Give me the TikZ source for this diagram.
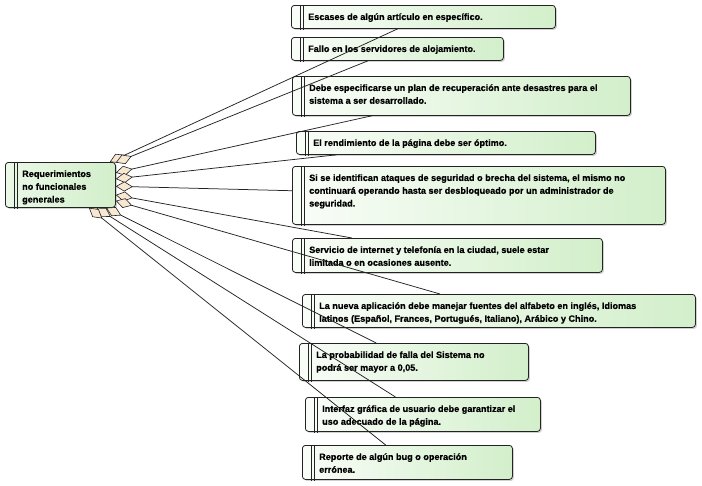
\documentclass[tikz,border=0pt]{standalone}
\usepackage{fontspec}
\setmainfont{Liberation Sans}
\newfontfamily\reqfont{Liberation Sans}[BoldFeatures={FakeBold=0.6}]
\usetikzlibrary{arrows.meta,shadows}
\definecolor{reqgreen}{RGB}{210,239,202}
\definecolor{diamfill}{RGB}{248,232,210}
\definecolor{edgecol}{RGB}{35,35,35}
\begin{document}
\begin{tikzpicture}[x=1pt,y=-1pt,
  reqbox/.style={draw=edgecol, line width=0.8pt, rounded corners=3pt,
    left color=white!88!reqgreen, right color=reqgreen, inner sep=0pt, anchor=north west,
    drop shadow={shadow xshift=1.5pt, shadow yshift=-1.5pt, fill=black, opacity=0.18}},
  reqtext/.style={font=\reqfont\bfseries\fontsize{9.1}{12.8}\selectfont, align=left,
    inner sep=0pt, anchor=north west, text=black},
  barline/.style={draw=edgecol, line width=0.7pt},
  agg/.style={draw=edgecol, line width=0.75pt,
    {Diamond[fill=diamfill, length=17pt, width=10pt, line width=0.6pt]}-}
]
\useasboundingbox (0,0) rectangle (702,485);
% boxes
\node[reqbox, minimum width=110pt, minimum height=45pt, left color=white!55!reqgreen] (req) at (5,162) {};
\node[reqbox, minimum width=264pt, minimum height=23pt] (b1) at (291,5) {};
\node[reqbox, minimum width=212pt, minimum height=23pt] (b2) at (291,37) {};
\node[reqbox, minimum width=338pt, minimum height=39pt] (b3) at (292,76) {};
\node[reqbox, minimum width=299pt, minimum height=23pt] (b4) at (296,131) {};
\node[reqbox, minimum width=373pt, minimum height=58pt] (b5) at (292,166) {};
\node[reqbox, minimum width=310pt, minimum height=34pt] (b6) at (292,238) {};
\node[reqbox, minimum width=393pt, minimum height=33pt] (b7) at (302,294) {};
\node[reqbox, minimum width=229pt, minimum height=37pt] (b8) at (299,343) {};
\node[reqbox, minimum width=235pt, minimum height=34pt] (b9) at (305,397) {};
\node[reqbox, minimum width=210pt, minimum height=34pt] (b10) at (302,445) {};
% double bars
\foreach \n in {req,b1,b2,b3,b4,b5,b6,b7,b8,b9,b10}{
  \draw[barline] ([xshift=9pt]\n.north west) -- ([xshift=9pt,yshift=-1.5pt]\n.south west);
  \draw[barline] ([xshift=12pt]\n.north west) -- ([xshift=12pt,yshift=-1.5pt]\n.south west);
}
% texts
\node[reqtext] (t0) at ([xshift=17pt,yshift=-5.8pt]req.north west) {\strut Requerimientos\\no funcionales\\generales};
\node[reqtext] (t1) at ([xshift=17pt,yshift=-5.8pt]b1.north west) {\strut Escases de algún artículo en específico.};
\node[reqtext] (t2) at ([xshift=17pt,yshift=-5.8pt]b2.north west) {\strut Fallo en los servidores de alojamiento.};
\node[reqtext] (t3) at ([xshift=17pt,yshift=-5.8pt]b3.north west) {\strut Debe especificarse un plan de recuperación ante desastres para el\\sistema a ser desarrollado.};
\node[reqtext] (t4) at ([xshift=17pt,yshift=-5.8pt]b4.north west) {\strut El rendimiento de la página debe ser óptimo.};
\node[reqtext] (t5) at ([xshift=17pt,yshift=-5.8pt]b5.north west) {\strut Si se identifican ataques de seguridad o brecha del sistema, el mismo no\\continuará operando hasta ser desbloqueado por un administrador de\\seguridad.};
\node[reqtext] (t6) at ([xshift=17pt,yshift=-5.8pt]b6.north west) {\strut Servicio de internet y telefonía en la ciudad, suele estar\\limitada o en ocasiones ausente.};
\node[reqtext] (t7) at ([xshift=17pt,yshift=-5.8pt]b7.north west) {\strut La nueva aplicación debe manejar fuentes del alfabeto en inglés, Idiomas\\latinos (Español, Frances, Portugués, Italiano), Arábico y Chino.};
\node[reqtext] (t8) at ([xshift=17pt,yshift=-5.8pt]b8.north west) {\strut La probabilidad de falla del Sistema no\\podrá ser mayor a 0,05.};
\node[reqtext] (t9) at ([xshift=17pt,yshift=-5.8pt]b9.north west) {\strut Interfaz gráfica de usuario debe garantizar el\\uso adecuado de la página.};
\node[reqtext] (t10) at ([xshift=17pt,yshift=-5.8pt]b10.north west) {\strut Reporte de algún bug o operación\\errónea.};
% aggregation connectors
\foreach \n in {b1,b2,b3,b4,b5,b6,b7,b8,b9,b10}{
  \draw[agg] (req) -- (\n);
}
\end{tikzpicture}
\end{document}
